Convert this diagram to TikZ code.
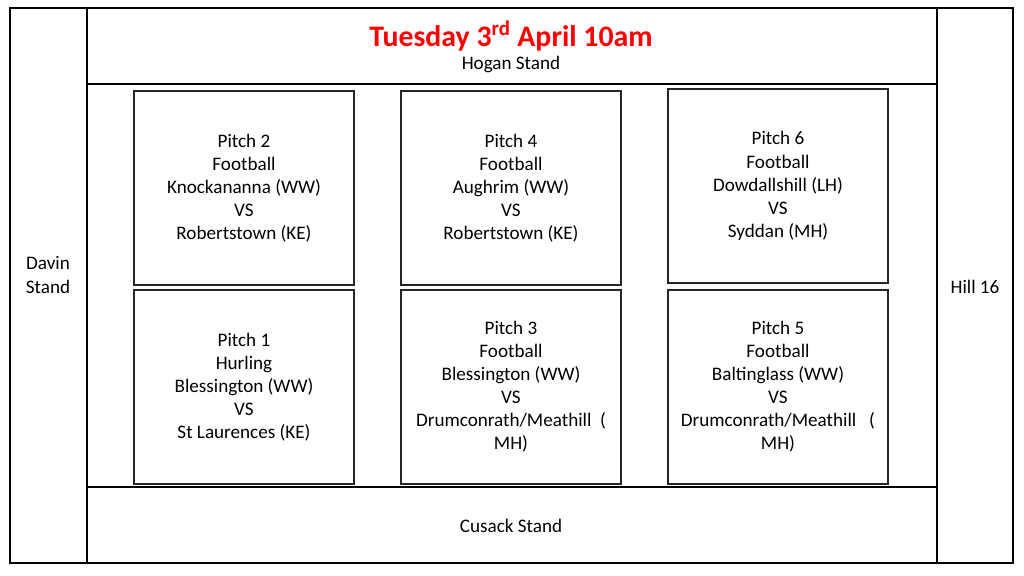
\documentclass[tikz,border=0pt]{standalone}
\usepackage{fontspec}
\setmainfont{Carlito}
\usepackage{xcolor}
\usetikzlibrary{positioning}
\tikzset{
  stand/.style={draw,line width=0.9pt},
  pitch/.style={draw=black!85,line width=0.9pt,minimum width=5.5cm,minimum height=4.85cm,
    align=center,font=\fontsize{13.6}{16.4}\selectfont},
  standname/.style={align=center,font=\fontsize{13.6}{16.4}\selectfont},
  every node/.style={inner sep=0pt}
}

\begin{document}
\begin{tikzpicture}[x=0.025cm,y=-0.025cm]
  \useasboundingbox (0,0) rectangle (1024,576);
  % stands
  \draw[stand] (10,8) rectangle (1013,563);
  \foreach \X in {87,937} \draw[stand] (\X,8) -- (\X,563);
  \foreach \Y in {84,487} \draw[stand] (87,\Y) -- (937,\Y);
  \node[font=\fontsize{21.2}{25}\selectfont\bfseries,text=red] (title) at (511,36)
    {Tuesday 3\textsuperscript{rd} April 10am};
  \node[standname] (hogan) at (511,65) {Hogan Stand};
  \node[standname] (cusack) at (511,526) {Cusack Stand};
  \node[standname] (davin) at (48,275) {Davin\\Stand};
  \node[standname] (hill) at (975,287) {Hill 16};
  % pitches
  \node[pitch] (p2) at (244,188) {Pitch 2\\Football\\Knockananna (WW)\\VS\\Robertstown (KE)};
  \node[pitch] (p4) at (511,188) {Pitch 4\\Football\\Aughrim (WW)\\VS\\Robertstown (KE)};
  \node[pitch] (p6) at (778,186) {Pitch 6\\Football\\Dowdallshill (LH)\\VS\\Syddan (MH)};
  \node[pitch] (p1) at (244,387) {Pitch 1\\Hurling\\Blessington (WW)\\VS\\St Laurences (KE)};
  \node[pitch] (p3) at (511,387) {Pitch 3\\Football\\Blessington (WW)\\VS\\Drumconrath/Meathill~~(\\MH)};
  \node[pitch] (p5) at (778,387) {Pitch 5\\Football\\Baltinglass (WW)\\VS\\Drumconrath/Meathill~~~(\\MH)};
\end{tikzpicture}
\end{document}
